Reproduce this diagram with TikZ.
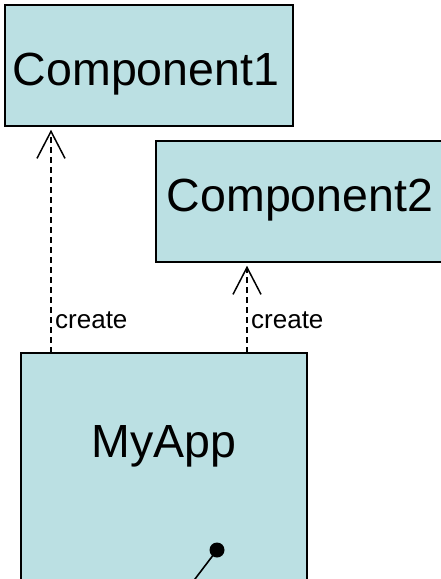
\documentclass[tikz,border=0pt]{standalone}
\usepackage{fontspec}
\setmainfont{Liberation Sans}
\usetikzlibrary{arrows.meta}
\definecolor{boxfill}{RGB}{187,224,227}
\tikzset{
  classbox/.style={draw=black, line width=1.5pt, fill=boxfill, rectangle, inner sep=0pt},
  bigname/.style={font=\fontsize{46.5}{50}\selectfont, anchor=base, inner sep=0pt},
  smallname/.style={font=\fontsize{26}{30}\selectfont, anchor=base west, inner sep=0pt},
  depends/.style={line width=1.5pt, dash pattern=on 6pt off 4pt,
    -{Straight Barb[length=27pt, width=28pt, line width=1.5pt]}, shorten >=3pt},
  wire/.style={line width=1.6pt}
}
\begin{document}
\begin{tikzpicture}[x=1pt, y=-1pt]
  \useasboundingbox (0,0) rectangle (441,579);
  \clip (0,0) rectangle (441,579);

  % class boxes
  \node[classbox, minimum width=288pt, minimum height=121pt] (c1) at (149,65.5) {};
  \node[classbox, minimum width=288pt, minimum height=121pt] (c2) at (300,201.5) {};
  \node[classbox, minimum width=286pt, minimum height=300pt] (app) at (164,503) {};

  % names
  \node[bigname] (c1name) at (146,85) {Component1};
  \node[bigname] (c2name) at (300,211.5) {Component2};
  \node[bigname] (appname) at (164,457) {MyApp};

  % creation dependencies
  \coordinate (s1) at (51,353);
  \coordinate (s2) at (247,353);
  \draw[depends] (s1) -- (s1 |- c1.south);
  \draw[depends] (s2) -- (s2 |- c2.south);
  \node[smallname] (l1) at (55,328) {create};
  \node[smallname] (l2) at (251,328) {create};

  % connector end with a dot inside the application box
  \node[circle, fill=black, inner sep=0pt, minimum size=15pt] (dot) at (217,550) {};
  \coordinate (wireend) at (173,608);
  \draw[wire] (dot.center) -- (wireend);
\end{tikzpicture}
\end{document}
